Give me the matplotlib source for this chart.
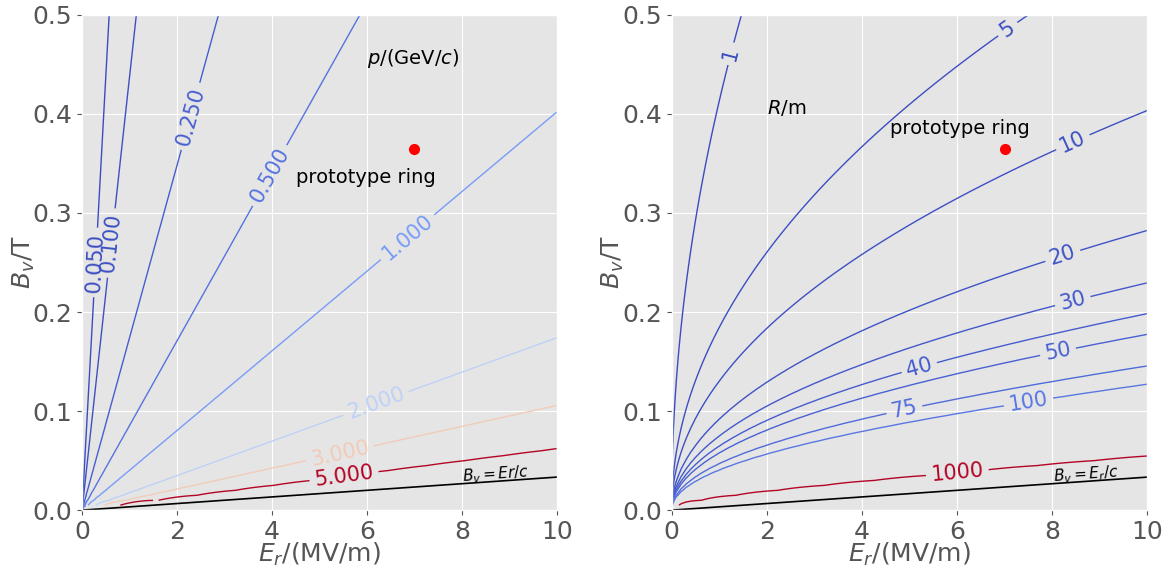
import numpy as np
import matplotlib
matplotlib.use("Agg")
import matplotlib.pyplot as plt

plt.style.use("ggplot")

# --- data / physics parameters ---
c_light = 299792458.0
m_d = 1.875612          # deuteron mass, GeV/c^2
a_d = -0.1429875        # deuteron anomalous magnetic moment
E_vals = np.linspace(0, 10, 101)     # MV/m
B_vals = np.linspace(0, 0.5, 101)    # T
p_levels = [0.05, 0.1, 0.25, 0.5, 1.0, 2.0, 3.0, 5.0]
R_levels = [1, 5, 10, 20, 30, 40, 50, 75, 100, 1000]
proto_E = [7.0]
proto_B = [0.365]
p_label_pos = [(0.3, 0.25), (0.55, 0.27), (2.1, 0.40), (3.5, 0.35), (6.6, 0.29),
               (6.2, 0.107), (5.4, 0.064), (5.5, 0.043)]
R_label_pos = [(1.3, 0.46), (7.0, 0.49), (8.4, 0.375), (8.3, 0.245), (8.4, 0.217),
               (5.2, 0.145), (8.1, 0.165), (4.9, 0.10), (7.5, 0.11), (6.0, 0.041)]

# frozen-spin relation x = cB/E as function of u = beta*gamma
u_grid = np.logspace(-5, 4, 40000)
beta_grid = u_grid / np.sqrt(1 + u_grid**2)
x_grid = beta_grid * (1 + 1 / (abs(a_d) * u_grid**2))

EE, BB = np.meshgrid(E_vals, B_vals)
with np.errstate(divide="ignore", invalid="ignore"):
    X = c_light * BB / (EE * 1e6)
    U = np.interp(X, x_grid[::-1], u_grid[::-1])
    U = np.where(X <= 1, np.nan, U)
    U = np.where(EE == 0, 0.0, U)
    P = U * m_d
    beta = U / np.sqrt(1 + U**2)
    R = P * 1e9 * beta / (beta * c_light * BB - EE * 1e6)
    R = np.where(EE == 0, 0.0, R)

fig = plt.figure(figsize=(11.72, 5.70), dpi=100)
ax1 = fig.add_axes([0.070, 0.105, 0.405, 0.869])
ax2 = fig.add_axes([0.573, 0.105, 0.406, 0.869])

tick_fs = 18
for ax in (ax1, ax2):
    ax.set_xlim(0, 10)
    ax.set_ylim(0, 0.5)
    ax.tick_params(labelsize=tick_fs, colors="#555555")
    ax.set_xlabel(r"$E_r$/(MV/m)", fontsize=18, color="#555555", labelpad=-2)
    ax.set_ylabel(r"$B_v$/T", fontsize=18, color="#555555", labelpad=-3)
    ax.set_xticks([0, 2, 4, 6, 8, 10])
    ax.set_yticks([0.0, 0.1, 0.2, 0.3, 0.4, 0.5])
    ax.plot(E_vals, E_vals * 1e6 / c_light, color="black", lw=1.2)
    ax.plot(proto_E, proto_B, "o", color="red", ms=7)

cs1 = ax1.contour(EE, BB, P, levels=p_levels, cmap="coolwarm", linewidths=1.0)
ax1.clabel(cs1, fmt="%.3f", fontsize=15, inline=True, manual=p_label_pos)
ax1.text(6.0, 0.45, r"$p$/(GeV/$c$)", fontsize=14)
ax1.text(4.5, 0.33, "prototype ring", fontsize=14)
ax1.text(8.0, 0.029, r"$B_v = Er/c$", fontsize=11, rotation=4)

cs2 = ax2.contour(EE, BB, R, levels=R_levels, cmap="coolwarm", linewidths=1.0)
ax2.clabel(cs2, fmt="%g", fontsize=15, inline=True, manual=R_label_pos)
ax2.text(2.0, 0.40, r"$R$/m", fontsize=14)
ax2.text(4.6, 0.38, "prototype ring", fontsize=14)
ax2.text(8.0, 0.029, r"$B_v = E_r/c$", fontsize=11, rotation=4)

fig.savefig("out.png", dpi=100)
